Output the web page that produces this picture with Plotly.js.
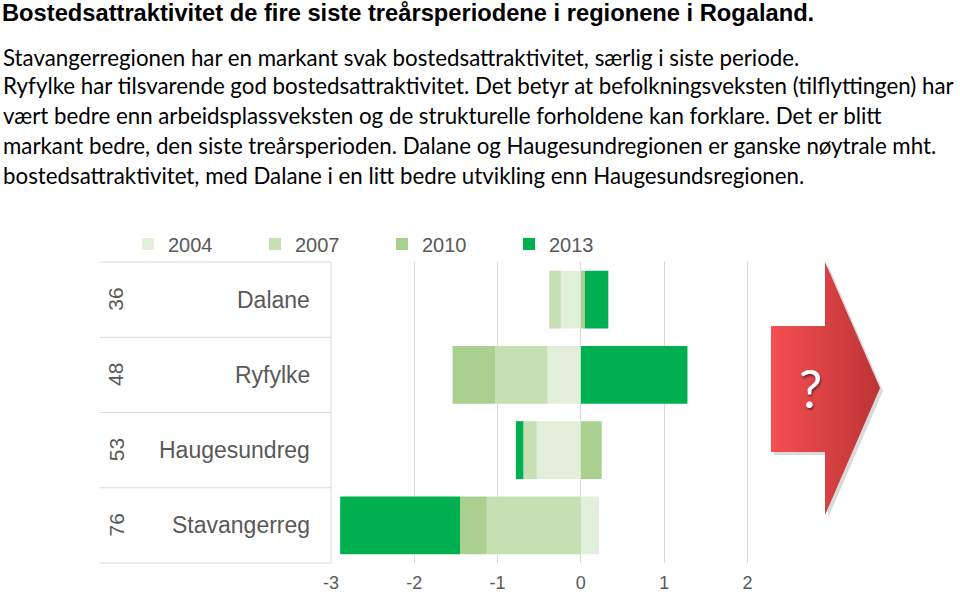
<!DOCTYPE html>
<html>
<head>
<meta charset="utf-8">
<script src="https://cdn.plot.ly/plotly-3.0.1.min.js"></script>
<style>
  html, body { margin: 0; padding: 0; background: #ffffff; }
  #chart { width: 960px; height: 593px; }
</style>
</head>
<body>
<div id="chart"></div>
<script>
// ---- data ----
const categories = ['Dalane', 'Ryfylke', 'Haugesundreg', 'Stavangerreg'];
const groupCounts = ['36', '48', '53', '76'];
const seriesNames = ['2004', '2007', '2010', '2013'];
const v2004 = [-0.24, -0.40, -0.53, 0.22];
const v2007 = [-0.14, -0.63, -0.16, -1.13];
const v2010 = [0.05, -0.51, 0.25, -0.32];
const v2013 = [0.28, 1.28, -0.09, -1.44];
const xTickVals = [-3, -2, -1, 0, 1, 2];

const titleText = 'Bostedsattraktivitet de fire siste treårsperiodene i regionene i Rogaland.';
const bodyLines = [
  'Stavangerregionen har en markant svak bostedsattraktivitet, særlig i siste periode.',
  'Ryfylke har tilsvarende god bostedsattraktivitet. Det betyr at befolkningsveksten (tilflyttingen) har',
  'vært bedre enn arbeidsplassveksten og de strukturelle forholdene kan forklare. Det er blitt',
  'markant bedre, den siste treårsperioden. Dalane og Haugesundregionen er ganske nøytrale mht.',
  'bostedsattraktivitet, med Dalane i en litt bedre utvikling enn Haugesundsregionen.'
];

// ---- styling / geometry ----
const colors = ['#e2efda', '#c6e0b4', '#a9d08e', '#00b050'];
const W = 960, H = 593;
const M = { l: 331, r: 71, t: 262, b: 30 };
const PW = W - M.l - M.r, PH = H - M.t - M.b;
const px = x => (x - M.l) / PW;            // pixel -> paper x
const py = y => (H - M.b - y) / PH;        // pixel -> paper y
const labelFont = 'Liberation Sans, Arial, sans-serif';
const bodyFont = 'Lato, Open Sans, sans-serif';
const grey = '#595959';

const seriesVals = [v2004, v2007, v2010, v2013];
const traces = seriesNames.map((name, i) => ({
  type: 'bar',
  orientation: 'h',
  name: name,
  y: categories,
  x: seriesVals[i],
  marker: { color: colors[i], line: { width: 0 } },
  hoverinfo: 'x+y+name'
}));

// decorative arrow (pixel-coordinate overlay axes)
const arrowX = [771, 825, 825, 880, 825, 825, 771, 771];
const arrowY = [326, 326, 262, 388, 515, 452, 452, 326];
traces.push({
  type: 'scatter', xaxis: 'x2', yaxis: 'y2', mode: 'lines',
  x: arrowX.map(v => v + 3), y: arrowY.map(v => v + 3),
  fill: 'toself', fillcolor: 'rgba(0,0,0,0.15)', line: { width: 0 },
  showlegend: false, hoverinfo: 'skip'
});
traces.push({
  type: 'scatter', xaxis: 'x2', yaxis: 'y2', mode: 'lines',
  x: arrowX, y: arrowY,
  fill: 'toself',
  fillgradient: { type: 'horizontal', colorscale: [[0, '#f44f51'], [1, '#bc3436']] },
  line: { width: 0 },
  showlegend: false, hoverinfo: 'skip'
});

const annotations = [];
categories.forEach((c, i) => {
  annotations.push({
    xref: 'paper', yref: 'y', x: px(312), y: c, xanchor: 'right', yanchor: 'middle',
    text: c, showarrow: false, font: { family: labelFont, size: 23, color: grey }
  });
  annotations.push({
    xref: 'paper', yref: 'y', x: px(116), y: c, xanchor: 'center', yanchor: 'middle',
    text: groupCounts[i], textangle: -90, showarrow: false,
    font: { family: labelFont, size: 21, color: grey }
  });
});
const lineY = [57, 86, 116, 146, 176];
bodyLines.forEach((t, i) => {
  annotations.push({
    xref: 'paper', yref: 'paper', x: px(1), y: py(lineY[i]), xanchor: 'left', yanchor: 'middle',
    text: t, showarrow: false, font: { family: bodyFont, size: 22.3, color: '#000000' }
  });
});
annotations.push({
  xref: 'x2', yref: 'y2', x: 810, y: 388, text: '?', showarrow: false,
  font: { family: bodyFont, size: 52, color: '#ffffff', shadow: '1px 2px 2px rgba(0,0,0,0.45)' }
});

const shapes = [];
[262, 337.25, 412.5, 487.75, 563].forEach(y => {
  shapes.push({ type: 'line', xref: 'paper', yref: 'paper', x0: px(100), x1: px(331), y0: py(y), y1: py(y),
    line: { color: '#d9d9d9', width: 1 } });
});
shapes.push({ type: 'line', xref: 'paper', yref: 'paper', x0: px(331), x1: px(331), y0: 0, y1: 1,
  line: { color: '#d9d9d9', width: 1 } });

const layout = {
  width: W, height: H,
  margin: M,
  paper_bgcolor: '#ffffff', plot_bgcolor: '#ffffff',
  barmode: 'relative',
  bargap: 0.23,
  title: {
    text: '<b>' + titleText + '</b>',
    xref: 'container', x: 2 / W, xanchor: 'left',
    yref: 'container', y: 1 - 13 / H, yanchor: 'middle',
    font: { family: labelFont, size: 23.7, color: '#000000' }
  },
  xaxis: {
    range: [-3, 3.7], tickvals: xTickVals, ticktext: xTickVals.map(String),
    showgrid: true, gridcolor: '#d9d9d9', gridwidth: 1,
    zeroline: false, showline: false, ticks: '',
    ticklabelstandoff: 7,
    tickfont: { family: labelFont, size: 18, color: grey }
  },
  yaxis: {
    type: 'category', range: [3.5, -0.5],
    showticklabels: false, showgrid: false, zeroline: false, showline: false, ticks: ''
  },
  xaxis2: { overlaying: 'x', range: [M.l, W - M.r], visible: false, fixedrange: true },
  yaxis2: { overlaying: 'y', range: [H - M.b, M.t], visible: false, fixedrange: true },
  legend: {
    orientation: 'h', traceorder: 'normal',
    x: px(128), xanchor: 'left', y: py(244), yanchor: 'middle',
    entrywidth: 82, entrywidthmode: 'pixels', itemwidth: 30,
    font: { family: labelFont, size: 20, color: grey },
    bgcolor: 'rgba(0,0,0,0)'
  },
  annotations: annotations,
  shapes: shapes,
  showlegend: true
};

Plotly.newPlot('chart', traces, layout, { displayModeBar: false, staticPlot: true });
</script>
</body>
</html>
